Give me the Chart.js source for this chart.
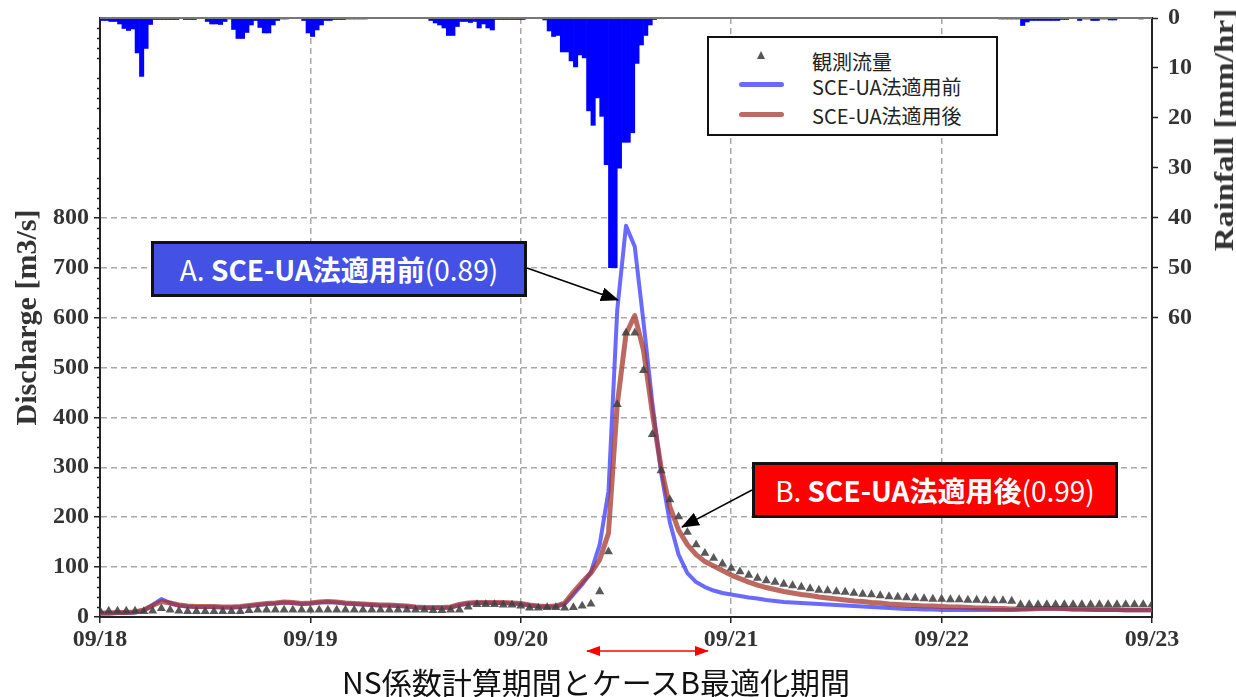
<!DOCTYPE html>
<html lang="ja">
<head>
<meta charset="utf-8">
<title>Discharge / Rainfall</title>
<script src="https://cdn.jsdelivr.net/npm/chart.js@4/dist/chart.umd.min.js"></script>
<style>
  html, body { margin: 0; padding: 0; background: #fff; }
  #wrap { position: relative; width: 1236px; height: 697px; overflow: hidden; }
  #chart { position: absolute; left: 0; top: 0; }
  .serif { font-family: 'Liberation Serif', 'Times New Roman', serif; font-weight: bold; color: #333; }
  .jp { font-family: 'Noto Sans CJK JP', 'Noto Sans', sans-serif; }
  #rainTitle { position: absolute; width: 300px; left: 1074px; top: 114px; font-size: 27px; line-height: 32px;
    text-align: center; transform: rotate(-90deg) scaleX(1.23); white-space: nowrap; }
  #legend { position: absolute; left: 707px; top: 36px; width: 287px; height: 96px; border: 2px solid #111; background: #fff; }
  #legend .item { position: absolute; left: 103px; font-size: 20px; line-height: 24px; color: #222; white-space: nowrap; }
  #legend .tri { position: absolute; left: 48px; top: 13px; width: 0; height: 0;
    border-left: 4.5px solid transparent; border-right: 4.5px solid transparent; border-bottom: 8px solid #555; }
  #legend .ln { position: absolute; left: 30px; width: 45px; height: 5px; border-radius: 3px; }
  .note { position: absolute; height: 50px; line-height: 50px; border: 3px solid #111; color: #fff;
    font-size: 28px; text-align: center; white-space: nowrap; }
  .note b { font-weight: bold; }
  #noteA { left: 151px; top: 241px; width: 370px; background: #4451e5; }
  #noteB { left: 752px; top: 462px; width: 360px; background: #ff0000; }
  #period { position: absolute; left: 296px; width: 600px; top: 664px; font-size: 30px; line-height: 34px;
    text-align: center; color: #111; white-space: nowrap; }
  #arrows { position: absolute; left: 0; top: 0; pointer-events: none; }
</style>
</head>
<body>
<div id="wrap">
  <canvas id="chart" width="1236" height="697"></canvas>

  <div id="rainTitle" class="serif">Rainfall [mm/hr]</div>

  <div id="legend" class="jp">
    <div class="tri"></div>
    <div class="item" style="top:12px">観測流量</div>
    <div class="ln" style="top:44px;background:rgba(80,80,255,0.85)"></div>
    <div class="item" style="top:37px">SCE-UA法適用前</div>
    <div class="ln" style="top:74px;background:rgba(170,70,60,0.8)"></div>
    <div class="item" style="top:66px">SCE-UA法適用後</div>
  </div>

  <div id="noteA" class="note jp">A. <b>SCE-UA法適用前</b>(0.89)</div>
  <div id="noteB" class="note jp">B. <b>SCE-UA法適用後</b>(0.99)</div>

  <svg id="arrows" width="1236" height="697">
    <defs>
      <marker id="headBig" markerWidth="18" markerHeight="14" refX="17" refY="7" orient="auto" markerUnits="userSpaceOnUse">
        <path d="M0,0 L18,7 L0,14 z" fill="#000"></path>
      </marker>
      <marker id="headR" markerWidth="14" markerHeight="10" refX="13" refY="5" orient="auto-start-reverse" markerUnits="userSpaceOnUse">
        <path d="M0,0 L14,5 L0,10 z" fill="#ff0000"></path>
      </marker>
    </defs>
    <line x1="527" y1="268" x2="618" y2="300" stroke="#000" stroke-width="1.5" marker-end="url(#headBig)"></line>
    <line x1="752" y1="490" x2="682" y2="527" stroke="#000" stroke-width="1.5" marker-end="url(#headBig)"></line>
    <line x1="587" y1="651" x2="708" y2="651" stroke="#ff0000" stroke-width="1.5"
          marker-start="url(#headR)" marker-end="url(#headR)"></line>
  </svg>

  <div id="period" class="jp">NS係数計算期間とケースB最適化期間</div>
</div>

<script>
// 時間軸: 09/18 00:00 から 09/23 00:00 まで (単位: 時間)
const dayLabels = ['09/18', '09/19', '09/20', '09/21', '09/22', '09/23'];
const HOURS_PER_DAY = 24;
const RAIN_STEP = 0.5; // 雨量は30分値

// 観測流量 [m3/s] 1時間毎 (i = 0..120)
const observed = [
  12, 12, 12, 12, 12, 11, 12, 17, 14, 12,
  11, 11, 11, 11, 11, 11, 11, 13, 14, 14,
  14, 14, 14, 14, 14, 14, 14, 14, 14, 14,
  14, 14, 14, 14, 14, 14, 14, 14, 13, 13,
  14, 14, 20, 25, 25, 25, 24, 24, 22, 18,
  18, 19, 19, 18, 19, 22, 26, 51, 131, 426,
  569, 569, 494, 366, 293, 235, 201, 170, 145, 128,
  118, 107, 98, 91, 84, 78, 73, 70, 66, 63,
  60, 57, 54, 53, 51, 50, 48, 46, 45, 43,
  41, 40, 39, 38, 37, 36, 36, 35, 35, 34,
  34, 33, 33, 33, 32, 25, 25, 25, 25, 25,
  25, 25, 25, 25, 25, 25, 25, 25, 25, 25, 25
];

// SCE-UA法適用前 計算流量
const flowBefore = [
  7, 7, 8, 8, 9, 13, 24, 36, 28, 23,
  21, 20, 20, 20, 19, 19, 20, 22, 24, 26,
  27, 29, 28, 26, 27, 29, 30, 29, 27, 26,
  25, 24, 23, 23, 22, 21, 19, 18, 18, 18,
  19, 24, 27, 28, 28, 28, 28, 27, 26, 23,
  21, 20, 21, 26, 45, 65, 90, 145, 252, 615,
  784, 742, 590, 430, 290, 190, 125, 88, 70, 60,
  53, 48, 45, 42, 39, 37, 34, 32, 30, 29,
  28, 27, 26, 25, 24, 23, 22, 21, 20, 19,
  18, 17, 16, 16, 15, 15, 14, 14, 14, 14,
  14, 14, 14, 14, 14, 15, 16, 17, 17, 17,
  16, 15, 15, 15, 14, 14, 14, 14, 14, 14, 14
];

// SCE-UA法適用後 計算流量
const flowAfter = [
  8, 8, 9, 9, 10, 14, 23, 31, 28, 24,
  22, 21, 21, 21, 20, 20, 21, 23, 25, 27,
  28, 30, 29, 27, 28, 30, 31, 30, 28, 27,
  26, 25, 24, 24, 23, 22, 20, 19, 19, 19,
  20, 25, 28, 29, 29, 29, 29, 28, 27, 24,
  22, 21, 22, 28, 50, 70, 88, 115, 168, 425,
  567, 604, 534, 410, 300, 221, 174, 145, 125, 111,
  102, 93, 84, 77, 70, 64, 59, 55, 51, 48,
  45, 43, 40, 38, 36, 34, 32, 31, 29, 28,
  26, 25, 24, 23, 22, 22, 21, 20, 20, 19,
  18, 18, 17, 17, 16, 16, 16, 17, 17, 17,
  17, 16, 16, 15, 15, 15, 15, 14, 14, 14, 14
];

// 雨量 [mm/hr] 30分毎 (k = 0..239)
const rainfall = [
  0.5, 0.5, 0.7, 0.7, 1.2, 2.1, 2.5, 2.2, 7.0, 11.7,
  6.1, 1.3, 0.3, 0.3, 0.3, 0.3, 0.3, 0.3, 0, 0.3,
  0.3, 0.3, 0, 0, 0.7, 1.2, 1.2, 1.3, 0.7, 0.2,
  2.3, 4.1, 4.1, 2.9, 1.4, 0.5, 1.9, 3.0, 3.0, 1.4,
  0.5, 0.2, 0.2, 0, 0, 0, 0.5, 3.0, 3.7, 2.4,
  1.4, 0.5, 0.5, 0.3, 0.3, 0.3, 0.2, 0.2, 0.2, 0.2,
  0.2, 0, 0, 0, 0, 0, 0, 0, 0, 0,
  0, 0, 0, 0, 0, 0.5, 1.0, 1.4, 2.0, 3.5,
  3.5, 1.7, 0.7, 0.7, 0.9, 0.7, 2.0, 1.2, 2.0, 2.4,
  0.3, 0.3, 0.3, 0.3, 0.3, 0.3, 0.3, 0, 0, 0,
  0, 0.4, 2.6, 3.7, 3.5, 6.8, 6.8, 8.6, 9.8, 7.4,
  8.0, 18.6, 21.5, 16.0, 19.7, 29.4, 50.0, 50.0, 30.1, 24.9,
  24.9, 23.0, 9.1, 5.4, 3.5, 1.4, 0.3, 0, 0, 0,
  0, 0, 0, 0, 0, 0, 0, 0, 0, 0,
  0, 0, 0, 0, 0, 0, 0, 0, 0, 0,
  0, 0, 0, 0, 0, 0, 0, 0, 0, 0,
  0, 0, 0, 0, 0, 0, 0, 0, 0, 0,
  0, 0, 0, 0, 0, 0, 0, 0, 0, 0,
  0, 0, 0, 0, 0, 0, 0, 0, 0, 0,
  0, 0, 0, 0, 0, 0, 0, 0, 0, 0,
  0, 0, 0, 0, 0, 0.2, 0.2, 0.2, 0.2, 0.2,
  1.5, 0.8, 0.5, 0.5, 0.5, 0.5, 0.5, 0.5, 0.5, 0.3,
  0.3, 0, 0, 0.5, 0.2, 0.2, 0.5, 0.5, 0.2, 0.2,
  0.4, 0.4, 0.1, 0.1, 0.1, 0.1, 0.1, 0.2, 0, 0
];

const Q_MAX = 1200, Q_LABEL_MAX = 800, Q_STEP = 100, Q_MINOR = 20;
const R_MAX = 120, R_LABEL_MAX = 60, R_STEP = 10;

const serifFont = { family: "'Liberation Serif', 'Times New Roman', serif", weight: 'bold', size: 24 };
const axisColor = '#222';
const gridColor = '#a8a8a8';

const hourly = (list) => list.map((v, i) => ({ x: i, y: v }));

// 縦軸の余白はレイアウトに任せない
function fixWidth(width) {
  return (scale) => {
    scale.width = width;
    scale.paddingTop = 0;
    scale.paddingBottom = 0;
  };
}

// 左軸の補助目盛りと上枠
const frameTicks = {
  id: 'frameTicks',
  afterDraw(chart) {
    const { ctx, chartArea, scales } = chart;
    const yq = scales.y;
    ctx.save();
    ctx.strokeStyle = axisColor;
    ctx.lineWidth = 1.5;
    ctx.beginPath();
    for (let v = Q_MINOR; v <= Q_MAX; v += Q_MINOR) {
      if (v % Q_STEP === 0) continue;
      const py = Math.round(yq.getPixelForValue(v)) + 0.5;
      ctx.moveTo(chartArea.left - 3, py);
      ctx.lineTo(chartArea.left, py);
    }
    ctx.stroke();
    ctx.strokeStyle = '#777';
    ctx.lineWidth = 2;
    ctx.beginPath();
    ctx.moveTo(chartArea.left, chartArea.top);
    ctx.lineTo(chartArea.right, chartArea.top);
    ctx.stroke();
    ctx.restore();
  }
};

new Chart(document.getElementById('chart'), {
  type: 'line',
  data: {
    datasets: [
      {
        label: '観測流量',
        data: hourly(observed),
        yAxisID: 'y',
        showLine: false,
        pointStyle: 'triangle',
        pointRadius: 5.2,
        pointBackgroundColor: 'rgba(65,65,65,0.88)',
        pointBorderWidth: 0,
        order: 0
      },
      {
        label: 'SCE-UA法適用後',
        data: hourly(flowAfter),
        yAxisID: 'y',
        borderColor: 'rgba(165,55,45,0.75)',
        borderWidth: 5,
        pointRadius: 0,
        tension: 0,
        borderJoinStyle: 'round',
        borderCapStyle: 'round',
        order: 1
      },
      {
        label: 'SCE-UA法適用前',
        data: hourly(flowBefore),
        yAxisID: 'y',
        borderColor: 'rgba(80,80,255,0.85)',
        borderWidth: 4,
        pointRadius: 0,
        tension: 0,
        borderJoinStyle: 'round',
        borderCapStyle: 'round',
        order: 2
      },
      {
        type: 'bar',
        label: '雨量',
        data: rainfall.map((v, k) => ({ x: k * RAIN_STEP + RAIN_STEP / 2, y: v })),
        yAxisID: 'yRain',
        backgroundColor: '#0000ff',
        borderWidth: 0,
        barPercentage: 1,
        categoryPercentage: 1,
        order: 3
      }
    ]
  },
  options: {
    responsive: false,
    animation: false,
    layout: { padding: { top: 18, left: 0, right: 0, bottom: 0 } },
    plugins: { legend: { display: false }, tooltip: { enabled: false } },
    scales: {
      x: {
        type: 'linear',
        min: 0,
        max: dayLabels.length * HOURS_PER_DAY - HOURS_PER_DAY,
        offset: false,
        afterFit(scale) { scale.height = 80; },
        ticks: {
          stepSize: HOURS_PER_DAY,
          autoSkip: false,
          maxRotation: 0,
          padding: 2,
          color: '#333',
          font: serifFont,
          callback: (v) => dayLabels[v / HOURS_PER_DAY]
        },
        grid: { offset: false, color: gridColor, lineWidth: 1.5, tickLength: 6, tickColor: axisColor, tickWidth: 1.5 },
        border: { display: true, color: axisColor, width: 2, dash: [6, 4] }
      },
      y: {
        type: 'linear',
        position: 'left',
        min: 0,
        max: Q_MAX,
        afterFit: fixWidth(100),
        afterBuildTicks(scale) { scale.ticks = scale.ticks.filter((t) => t.value <= Q_LABEL_MAX); },
        ticks: { stepSize: Q_STEP, padding: 5, color: '#333', font: serifFont },
        grid: { color: gridColor, lineWidth: 1.5, tickLength: 6, tickColor: axisColor, tickWidth: 1.5 },
        border: { display: true, color: axisColor, width: 2, dash: [6, 4] },
        title: {
          display: true,
          text: 'Discharge [m3/s]',
          color: '#333',
          padding: { top: 10, bottom: 0 },
          font: { family: serifFont.family, weight: 'bold', size: 30 }
        }
      },
      yRain: {
        type: 'linear',
        position: 'right',
        reverse: true,
        min: 0,
        max: R_MAX,
        afterFit: fixWidth(84),
        afterBuildTicks(scale) { scale.ticks = scale.ticks.filter((t) => t.value <= R_LABEL_MAX); },
        ticks: { stepSize: R_STEP, padding: 10, color: '#333', font: serifFont },
        grid: { drawOnChartArea: false, tickLength: 6, tickColor: axisColor, tickWidth: 1.5 },
        border: { display: true, color: axisColor, width: 2 }
      }
    }
  },
  plugins: [frameTicks]
});
</script>
</body>
</html>
